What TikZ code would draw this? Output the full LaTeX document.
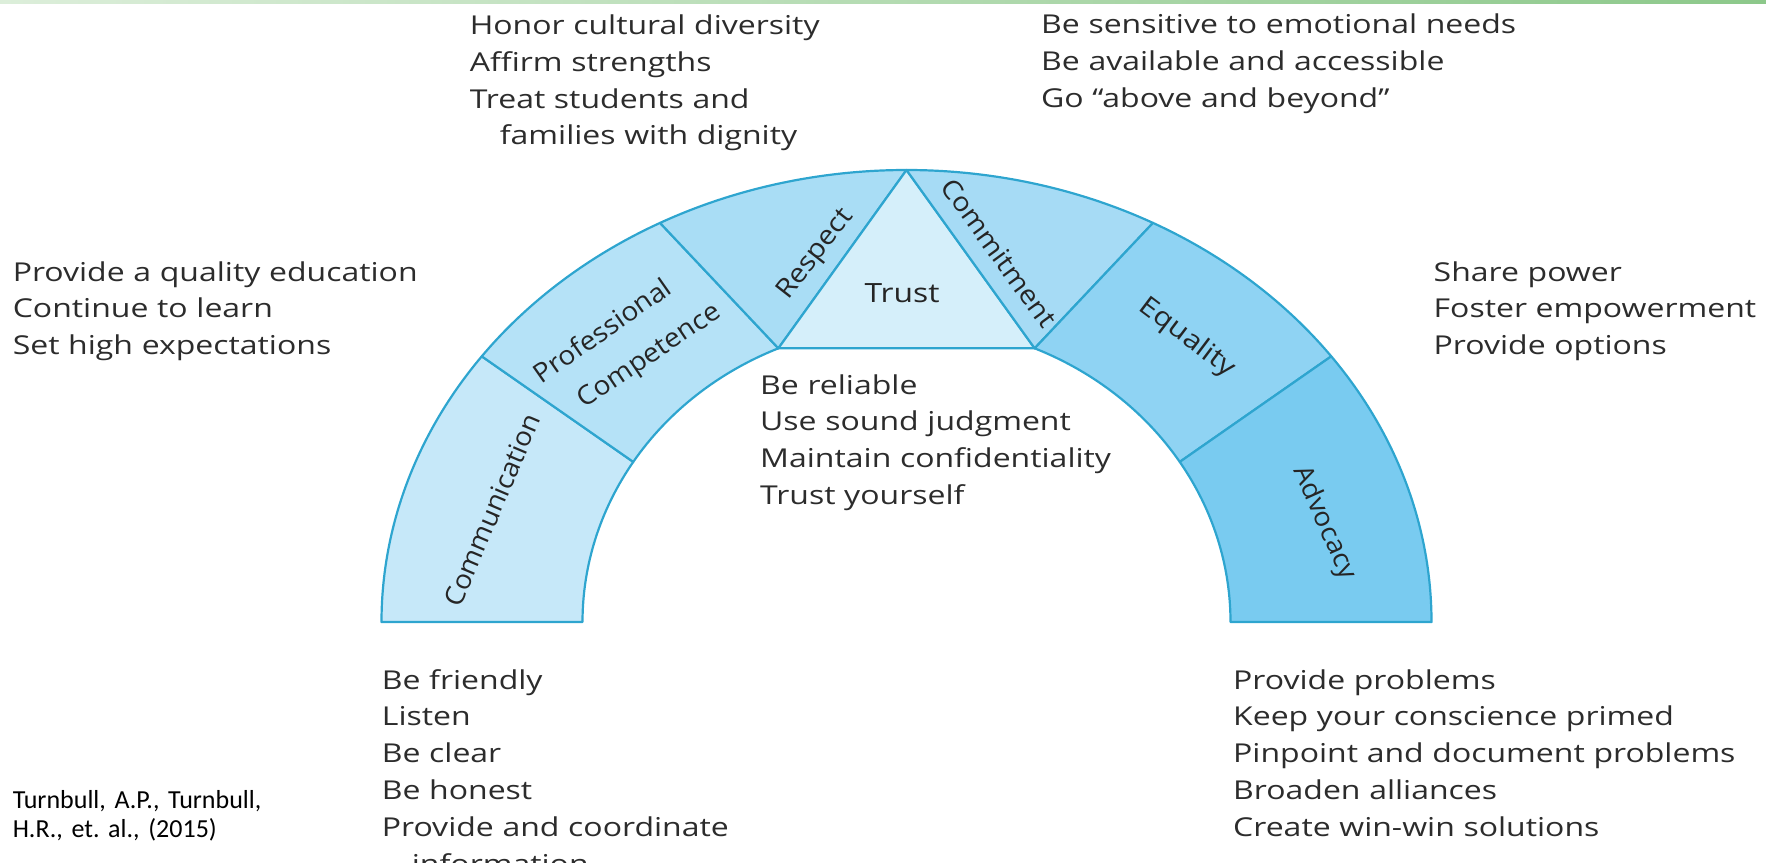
\documentclass[tikz,border=0pt]{standalone}
\usepackage{fontspec}
\usepackage{graphicx}
\setmainfont{Open Sans}[FakeStretch=1.23]
\newfontfamily\lblfont{Open Sans}
\newfontfamily\citefont{Carlito}
\usetikzlibrary{calc}
\definecolor{edge}{HTML}{2EA5CF}
\definecolor{cComm}{HTML}{C6E8F9}
\definecolor{cProf}{HTML}{B5E2F7}
\definecolor{cResp}{HTML}{A9DDF5}
\definecolor{cTrust}{HTML}{D5EFFA}
\definecolor{cCommit}{HTML}{A6DBF5}
\definecolor{cEq}{HTML}{8FD3F3}
\definecolor{cAdv}{HTML}{79CBF0}
\definecolor{txt}{HTML}{2C2C2C}
\definecolor{lbltxt}{HTML}{252525}
\definecolor{gl}{HTML}{DCEEDA}
\definecolor{gr}{HTML}{8CC88A}
\begin{document}
\frenchspacing
\begin{tikzpicture}[x=1pt,y=1pt,
  seg/.style={draw=edge, line width=2.2pt, line join=round},
  block/.style={anchor=base west, inner sep=0pt, text width=620pt, align=left,
    font=\fontsize{26}{36.8}\selectfont, text=txt},
  lbl/.style={inner sep=0pt, font=\lblfont\fontsize{26.5}{30}\selectfont, text=lbltxt},
  cite/.style={anchor=base west, inner sep=0pt, text width=400pt, align=left,
    font=\citefont\fontsize{26}{29}\selectfont\frenchspacing, text=black}]
\useasboundingbox (0,0) rectangle (1766,-862);
\shade[left color=gl, right color=gr] (0,0) rectangle (1766,-3);

\coordinate (C) at (906.5,-622);
% outer ellipse points
\coordinate (o180) at ([shift={(180:525 and 452)}]C);
\coordinate (o144) at ([shift={(144:525 and 452)}]C);
\coordinate (o118) at ([shift={(118:525 and 452)}]C);
\coordinate (o90)  at ([shift={(90:525 and 452)}]C);
\coordinate (o62)  at ([shift={(62:525 and 452)}]C);
\coordinate (o36)  at ([shift={(36:525 and 452)}]C);
% inner ellipse points
\coordinate (i147) at ([shift={(147.5:324 and 298)}]C);
\coordinate (bl)   at ([shift={(113.3:324 and 298)}]C);
\coordinate (br)   at ([shift={(66.7:324 and 298)}]C);
\coordinate (i32)  at ([shift={(32.5:324 and 298)}]C);
\coordinate (i0)   at ([shift={(0:324 and 298)}]C);

% arch segments
\filldraw[seg, fill=cComm] (o180) arc[start angle=180, end angle=144, x radius=525, y radius=452]
  -- (i147) arc[start angle=147.5, end angle=180, x radius=324, y radius=298] -- cycle;
\filldraw[seg, fill=cProf] (o144) arc[start angle=144, end angle=118, x radius=525, y radius=452]
  -- (bl) arc[start angle=113.3, end angle=147.5, x radius=324, y radius=298] -- cycle;
\filldraw[seg, fill=cResp] (o118) arc[start angle=118, end angle=90, x radius=525, y radius=452]
  -- (bl) -- cycle;
\filldraw[seg, fill=cTrust] (o90) -- (bl) -- (br) -- cycle;
\filldraw[seg, fill=cCommit] (o90) arc[start angle=90, end angle=62, x radius=525, y radius=452]
  -- (br) -- cycle;
\filldraw[seg, fill=cEq] (o62) arc[start angle=62, end angle=36, x radius=525, y radius=452]
  -- (i32) arc[start angle=32.5, end angle=66.7, x radius=324, y radius=298] -- cycle;
\filldraw[seg, fill=cAdv] (o36) arc[start angle=36, end angle=0, x radius=525, y radius=452]
  -- (i0) arc[start angle=0, end angle=32.5, x radius=324, y radius=298] -- cycle;

% segment labels
\node[lbl, rotate=67] (comm) at (492,-510) {\scalebox{1.05}[1]{Communication}};
\node[lbl, rotate=35] (prof) at (602,-330) {\scalebox{1.06}[1]{Professional}};
\node[lbl, rotate=34] (comp) at (650,-357) {\scalebox{1.06}[1]{Competence}};
\node[lbl, rotate=52] (resp) at (816,-255) {\scalebox{1.1}[1]{Respect}};
\node[lbl] (trust) at (902,-293) {\scalebox{1.2}[1]{Trust}};
\node[lbl, rotate=-54] (commit) at (999,-253) {\scalebox{1.08}[1]{Commitment}};
\node[lbl, rotate=-37] (eq) at (1187,-338) {\scalebox{1.15}[1]{Equality}};
\node[lbl, rotate=-66] (adv) at (1324,-523) {\scalebox{1.05}[1]{Advocacy}};

% text blocks
\node[block] (tRespect) at (469.6,-34.5) {Honor cultural diversity\\Affirm strengths\\Treat students and\\\hspace*{30pt}families with dignity};
\node[block] (tCommit) at (1041,-33.5) {Be sensitive to emotional needs\\Be available and accessible\\Go “above and beyond”};
\node[block] (tProf) at (12.6,-281) {Provide a quality education\\Continue to learn\\Set high expectations};
\node[block] (tEq) at (1433.5,-281) {Share power\\Foster empowerment\\Provide options};
\node[block] (tTrust) at (760,-394) {Be reliable\\Use sound judgment\\Maintain confidentiality\\Trust yourself};
\node[block] (tComm) at (381.7,-689) {Be friendly\\Listen\\Be clear\\Be honest\\Provide and coordinate\\\hspace*{30pt}information};
\node[block] (tAdv) at (1233,-689) {Provide problems\\Keep your conscience primed\\Pinpoint and document problems\\Broaden alliances\\Create win-win solutions};

\node[cite] (citation) at (12.6,-808) {Turnbull, A.P., Turnbull,\\H.R., et. al., (2015)};
\end{tikzpicture}
\end{document}
